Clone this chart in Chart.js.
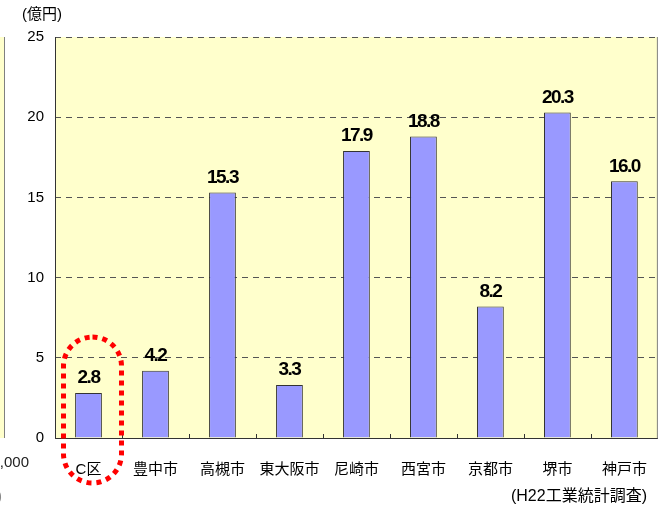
<!DOCTYPE html>
<html>
<head>
<meta charset="utf-8">
<script src="https://cdn.jsdelivr.net/npm/chart.js@4.4.1/dist/chart.umd.min.js"></script>
<style>
  html, body { margin: 0; padding: 0; background: #fff; }
  #wrap { width: 662px; height: 509px; position: relative; }
</style>
</head>
<body>
<div id="wrap"><canvas id="chart"></canvas></div>
<script>
const cities = ['C区', '豊中市', '高槻市', '東大阪市', '尼崎市', '西宮市', '京都市', '堺市', '神戸市'];
const shipments = [2.8, 4.2, 15.3, 3.3, 17.9, 18.8, 8.2, 20.3, 16.0];
const yTicks = [0, 5, 10, 15, 20, 25];

const FONT = "'Liberation Sans', 'Noto Sans CJK JP', sans-serif";

// yellow panel behind the bars, plus the left-hand neighbour panel edge
const backdrop = {
  id: 'backdrop',
  beforeDraw(chart) {
    const { ctx, chartArea: a } = chart;
    ctx.save();
    ctx.fillStyle = '#FFFFCC';
    ctx.fillRect(a.left, a.top, a.right - a.left, a.bottom - a.top);
    ctx.fillRect(0, a.top, 5, a.bottom - a.top);
    ctx.strokeStyle = '#808080';
    ctx.lineWidth = 1;
    ctx.beginPath();
    ctx.moveTo(4.5, a.top);
    ctx.lineTo(4.5, a.bottom);
    ctx.stroke();
    ctx.restore();
  },
  afterDraw(chart) {
    const { ctx, chartArea: a, scales: { x } } = chart;
    ctx.save();
    // right border and axis lines
    ctx.lineWidth = 1;
    ctx.strokeStyle = '#808080';
    ctx.beginPath();
    ctx.moveTo(a.right - 0.5, a.top);
    ctx.lineTo(a.right - 0.5, a.bottom);
    ctx.stroke();
    ctx.strokeStyle = '#333';
    ctx.beginPath();
    ctx.moveTo(a.left + 0.5, a.top);
    ctx.lineTo(a.left + 0.5, a.bottom + 0.5);
    ctx.lineTo(a.right, a.bottom + 0.5);
    ctx.stroke();
    // small inward ticks between categories
    ctx.beginPath();
    for (let i = 1; i < cities.length; i++) {
      const px = Math.round((x.getPixelForValue(i - 1) + x.getPixelForValue(i)) / 2) + 0.5;
      ctx.moveTo(px, a.bottom);
      ctx.lineTo(px, a.bottom - 4);
    }
    ctx.stroke();

    // value labels above bars
    const meta = chart.getDatasetMeta(0);
    ctx.fillStyle = '#000';
    ctx.font = "bold 19px " + FONT;
    ctx.letterSpacing = '-1.5px';
    ctx.textAlign = 'center';
    ctx.textBaseline = 'middle';
    meta.data.forEach((bar, i) => {
      ctx.fillText(shipments[i].toFixed(1), bar.x, bar.y - 15);
    });
    ctx.letterSpacing = '0px';

    // captions
    ctx.font = "15px " + FONT;
    ctx.fillStyle = '#000';
    ctx.textAlign = 'center';
    ctx.fillText('(億円)', 42, 15);
    ctx.textAlign = 'right';
    ctx.font = "16px " + FONT;
    ctx.fillText('(H22工業統計調査)', 647, 497);
    ctx.font = "15px " + FONT;
    ctx.fillStyle = '#222';
    ctx.fillText('10,000', 29, 463);
    ctx.fillStyle = '#888';
    ctx.fillText(')', 2, 497);

    // dotted highlight around the first category
    const cx = x.getPixelForValue(0) + 4;
    ctx.strokeStyle = '#FF0000';
    ctx.lineWidth = 5;
    ctx.setLineDash([5, 5]);
    ctx.beginPath();
    ctx.roundRect(cx - 29, 337, 58, 146, 29);
    ctx.stroke();
    ctx.restore();
  }
};

new Chart(document.getElementById('chart'), {
  type: 'bar',
  data: {
    labels: cities,
    datasets: [{
      data: shipments,
      backgroundColor: '#9999FF',
      borderColor: '#333',
      borderWidth: 1,
      borderSkipped: 'bottom',
      categoryPercentage: 1,
      barPercentage: 0.4
    }]
  },
  options: {
    responsive: true,
    maintainAspectRatio: false,
    animation: false,
    layout: { padding: { top: 37, right: 2, left: 0, bottom: 0 } },
    plugins: { legend: { display: false }, tooltip: { enabled: false } },
    scales: {
      x: {
        grid: { display: false },
        border: { display: false },
        ticks: { color: '#000', font: { size: 15, family: FONT }, padding: 15, maxRotation: 0 },
        afterFit(scale) { scale.height = 71; }
      },
      y: {
        min: 0,
        max: 25,
        afterBuildTicks(scale) { scale.ticks = yTicks.map(v => ({ value: v })); },
        grid: { color: '#555', lineWidth: 1, drawTicks: false },
        border: { display: false, dash: [6, 5] },
        ticks: { color: '#000', font: { size: 15, family: FONT }, padding: 11 },
        afterFit(scale) { scale.width = 55; }
      }
    }
  },
  plugins: [backdrop]
});
</script>
</body>
</html>
